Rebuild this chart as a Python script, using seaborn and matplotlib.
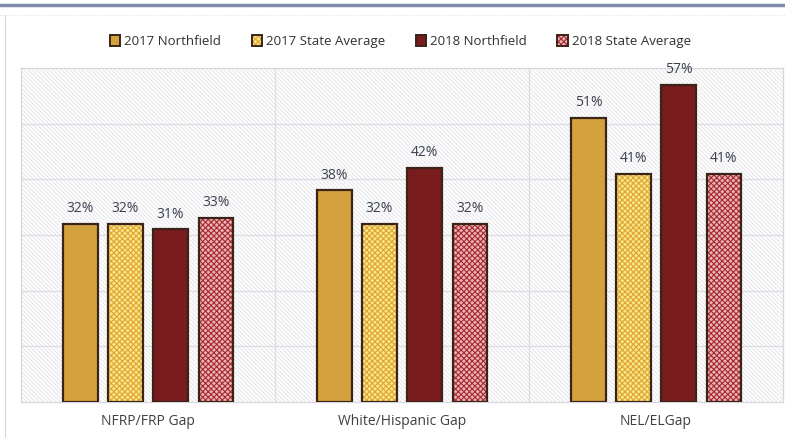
import matplotlib.pyplot as plt
import pandas as pd
import seaborn as sns
from matplotlib.patches import Rectangle, Patch
from matplotlib.lines import Line2D

# Data
groups = ['NFRP/FRP Gap', 'White/Hispanic Gap', 'NEL/ELGap']
series = ['2017 Northfield', '2017 State Average', '2018 Northfield', '2018 State Average']
northfield_2017 = [32, 38, 51]
state_2017 = [32, 32, 41]
northfield_2018 = [31, 42, 57]
state_2018 = [33, 32, 41]

df = pd.DataFrame({
    'group': groups * 4,
    'series': [s for s in series for _ in groups],
    'value': northfield_2017 + state_2017 + northfield_2018 + state_2018,
})

# Styles
face_colors = ['#D4A13E', '#F8E68C', '#7A1B1E', '#E8B4B4']
hatch_colors = ['#D4A13E', '#E0A430', '#7A1B1E', '#A82832']
hatches = ['', 'xxxxxx', '', 'xxxxxx']
outline = '#3A2418'

sns.set_style('white')
plt.rcParams['font.family'] = ['Open Sans', 'DejaVu Sans']
plt.rcParams['hatch.linewidth'] = 0.8

fig = plt.figure(figsize=(7.85, 4.38), dpi=100)
ax = fig.add_axes([0.0268, 0.0822, 0.9707, 0.7626])

# Filled / hatched bars
sns.barplot(data=df, x='group', y='value', hue='series', hue_order=series,
            order=groups, palette=face_colors, width=0.71, gap=0.24,
            linewidth=0, legend=False, ax=ax)
fill_containers = list(ax.containers)
for i, cont in enumerate(fill_containers):
    for bar in cont:
        bar.set_facecolor(face_colors[i])
        bar.set_edgecolor(hatch_colors[i])
        bar.set_hatch(hatches[i])
        bar.set_linewidth(0)
        bar.set_zorder(3)

# Outlines
sns.barplot(data=df, x='group', y='value', hue='series', hue_order=series,
            order=groups, width=0.71, gap=0.24, fill=False,
            palette=[outline] * 4, linewidth=1.6, legend=False, ax=ax)
for cont in ax.containers[len(fill_containers):]:
    for bar in cont:
        bar.set_zorder(4)

# Value labels
for i, cont in enumerate(fill_containers):
    for bar in cont:
        v = bar.get_height()
        ax.text(bar.get_x() + bar.get_width() / 2, v + 1.4, f'{v:.0f}%',
                ha='center', va='bottom', fontsize=10, color='#3C4150', zorder=5)

# Faint diagonal background texture
bg = Rectangle((0, 0), 1, 1, transform=ax.transAxes, facecolor='white',
               edgecolor='#e8e8ec', hatch='\\' * 8, linewidth=0, zorder=0)
ax.add_patch(bg)

ax.set_ylim(0, 60)
ax.set_xlim(-0.5, 2.5)
ax.set_yticks(range(10, 60, 10))
ax.set_yticklabels([])
ax.tick_params(axis='y', length=0)
ax.tick_params(axis='x', length=0, pad=9, labelsize=10, labelcolor='#404040')
ax.set_xlabel('')
ax.set_ylabel('')
for y in range(10, 60, 10):
    ax.axhline(y, color='#dcdce2', lw=0.9, zorder=1)
for x in [0.5, 1.5]:
    ax.axvline(x, color='#dcdce2', lw=0.9, zorder=1)
for sp in ax.spines.values():
    sp.set_color('#d6d6dc')
    sp.set_linewidth(0.9)

# Legend
handles = []
for i in range(4):
    fillp = Patch(facecolor=face_colors[i], edgecolor=hatch_colors[i],
                  hatch=hatches[i], linewidth=0)
    edge = Patch(facecolor='none', edgecolor=outline, linewidth=1.4)
    handles.append((fillp, edge))
fig.legend(handles, series, loc='center', bbox_to_anchor=(0.51, 0.905),
           ncol=4, frameon=False, fontsize=9.5, handlelength=0.8, handleheight=0.8,
           columnspacing=2.3, handletextpad=0.3, labelcolor='#303030')

# Page decorations: top rule and outer border
fig.add_artist(Line2D([0, 1], [0.988, 0.988], color='#7f8cab', lw=2.5))
fig.add_artist(Line2D([0.006, 0.006], [0.0, 0.965], color='#d8d8d8', lw=0.8))
fig.add_artist(Line2D([0, 1], [0.965, 0.965], color='#e0e0e4', lw=0.8, ls=':'))

fig.savefig('out.png', dpi=100)
